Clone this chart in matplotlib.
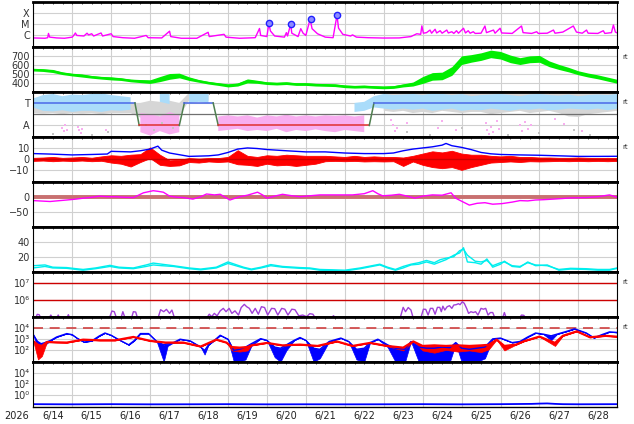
import numpy as np
import matplotlib.pyplot as plt
from matplotlib.ticker import NullLocator

# time axis: days since 2026-06-14 00:00
year_label = "2026"
day_labels = ["6/14", "6/15", "6/16", "6/17", "6/18", "6/19", "6/20", "6/21",
              "6/22", "6/23", "6/24", "6/25", "6/26", "6/27", "6/28"]

# --- X-ray flux (log10 W/m2) ---
xray_days = [0.00, 0.30, 0.37, 0.39, 0.42, 0.60, 0.80, 1.00, 1.06, 1.08,
             1.12, 1.30, 1.38, 1.42, 1.50, 1.55, 1.74, 1.78, 2.00, 2.05,
             2.30, 2.60, 2.90, 2.95, 3.30, 3.50, 3.53, 3.80, 4.20, 4.49,
             4.52, 4.90, 4.95, 5.30, 5.70, 5.81, 5.84, 6.00, 6.05, 6.09,
             6.20, 6.45, 6.50, 6.53, 6.61, 6.64, 6.80, 6.87, 6.93, 7.00,
             7.11, 7.16, 7.30, 7.50, 7.70, 7.80, 7.84, 7.95, 8.15, 8.20,
             8.30, 8.60, 9.00, 9.40, 9.70, 9.85, 9.95, 9.98, 10.02, 10.10,
             10.19, 10.23, 10.32, 10.36, 10.45, 10.50, 10.62, 10.66, 10.75, 10.80,
             10.87, 10.92, 11.05, 11.10, 11.17, 11.22, 11.30, 11.35, 11.50, 11.60,
             11.64, 11.82, 11.86, 11.99, 12.03, 12.30, 12.54, 12.58, 12.80, 12.93,
             12.97, 13.20, 13.36, 13.40, 13.60, 13.87, 13.95, 14.10, 14.21, 14.25,
             14.50, 14.64, 14.68, 14.85, 14.90, 14.95, 15.00]
xray_log = [-6.22, -6.25, -6.20, -5.82, -6.15, -6.22, -6.25, -6.15, -5.90, -5.78,
            -6.00, -6.05, -5.80, -5.95, -5.85, -6.05, -5.78, -6.05, -5.85, -6.10,
            -6.20, -6.25, -6.00, -6.20, -6.22, -5.62, -6.10, -6.25, -6.25, -5.72,
            -6.10, -5.90, -6.15, -6.25, -6.20, -5.38, -6.00, -6.10, -4.92, -5.60,
            -6.05, -6.15, -5.75, -6.05, -5.00, -5.80, -6.10, -5.40, -5.80, -6.00,
            -4.55, -5.40, -5.85, -6.15, -6.20, -4.20, -5.35, -5.90, -6.05, -5.95,
            -6.15, -6.20, -6.23, -6.22, -6.10, -5.85, -5.90, -5.15, -5.80, -5.75,
            -5.52, -5.80, -5.45, -5.78, -5.58, -5.80, -5.52, -5.78, -5.67, -5.82,
            -5.58, -5.80, -5.36, -5.78, -5.58, -5.80, -5.67, -5.82, -5.80, -5.16,
            -5.75, -5.52, -5.80, -5.36, -5.78, -5.82, -5.16, -5.75, -5.82, -5.67,
            -5.82, -5.80, -5.52, -5.80, -5.70, -5.16, -5.70, -5.80, -5.52, -5.80,
            -5.82, -5.58, -5.82, -5.75, -5.07, -5.70, -5.78]
flare_days = [6.06, 6.62, 7.12, 7.81]
flare_log = [-4.92, -5.00, -4.54, -4.18]

# --- samples every 6 hours ---
grid_days = np.linspace(0, 15, 61)

# solar wind speed (km/s): centre and half spread of the noisy band
speed_mid = [545, 540, 530, 505, 490, 480, 465, 455, 448, 440,
             425, 418, 412, 440, 470, 480, 445, 420, 400, 385,
             370, 380, 420, 410, 395, 390, 395, 385, 385, 378,
             375, 372, 360, 355, 358, 352, 348, 352, 370, 385,
             430, 470, 475, 530, 650, 670, 690, 720, 705, 665,
             640, 660, 665, 610, 575, 545, 510, 485, 465, 440, 415]
speed_spread = [15, 15, 17, 15, 15, 17, 15, 15, 17, 15,
                15, 17, 20, 28, 32, 26, 20, 15, 15, 15,
                17, 17, 22, 17, 15, 15, 15, 15, 15, 15,
                15, 15, 15, 15, 15, 15, 15, 15, 17, 22,
                38, 42, 42, 48, 48, 42, 42, 42, 42, 42,
                38, 38, 38, 32, 28, 25, 22, 22, 22, 22, 22]

# sector polarity (T = +1, A = -1)
pol_days = [0, 2.61, 2.72, 3.75, 3.88, 4.62, 4.75, 8.63, 8.75, 15]
pol_vals = [1, 1, -1, -1, 1, 1, -1, -1, 1, 1]
nan = np.nan
lb_hi = [1.4, 1.7, 1.8, 1.6, 1.75, 1.7, 1.8, 1.85, 1.7, 1.6,
         1.5, nan, nan, 1.85, 1.8, nan, 1.8, 1.85, 1.8, nan,
         nan, nan, nan, nan, nan, nan, nan, nan, nan, nan,
         nan, nan, nan, 1.0, 1.1, 1.6, 1.8, 1.7, 1.75, 1.8,
         1.7, 1.85, 1.8, 1.7, 1.8, 1.6, 1.7, 1.75, 1.8, 1.7,
         1.6, 1.75, 1.8, 1.7, 1.65, 1.75, 1.6, 1.7, 1.75, 1.7, 1.8]
lb_lo = [0.6, 0.3, 0.25, 0.35, 0.2, 0.3, 0.3, 0.2, 0.35, 0.3,
         0.4, nan, nan, 1.1, 0.9, nan, 1.0, 1.1, 1.0, nan,
         nan, nan, nan, nan, nan, nan, nan, nan, nan, nan,
         nan, nan, nan, 0.2, 0.3, 0.6, 0.5, 0.4, 0.5, 0.4,
         0.5, 0.3, 0.4, 0.5, 0.3, 0.4, 0.35, 0.5, 0.4, 0.3,
         0.45, 0.4, 0.5, 0.35, 0.4, 0.5, 0.45, 0.4, 0.5, 0.35, 0.5]
gr_hi = [1.0, 0.9, 1.0, 0.8, 1.0, 0.9, 1.0, 0.9, 1.0, 0.9,
         1.0, 1.0, 1.2, 1.1, 1.2, 1.0, 1.9, 1.95, 1.9, nan,
         nan, nan, nan, nan, nan, nan, nan, nan, nan, nan,
         nan, nan, nan, nan, nan, nan, 1.85, 1.9, 1.9, 1.95,
         1.9, 1.95, 1.9, 1.95, 1.95, 1.95, 1.95, 1.95, 1.95, 1.9,
         1.9, 1.9, 1.9, 1.85, 1.9, 1.95, 1.95, 1.95, 1.9, 1.95, 1.9]
gr_lo = [0.1, 0.05, 0.1, 0.0, 0.1, 0.05, 0.1, 0.0, 0.1, 0.1,
         0.1, -0.3, -0.5, -0.2, -0.4, -0.2, 1.2, 1.3, 1.2, nan,
         nan, nan, nan, nan, nan, nan, nan, nan, nan, nan,
         nan, nan, nan, nan, nan, nan, 0.3, 0.2, 0.3, 0.1,
         0.2, 0.1, 0.3, 0.2, 0.1, 0.2, 0.2, 0.0, 0.1, 0.2,
         0.3, 0.1, 0.2, 0.3, 0.1, -0.2, -0.25, 0.0, 0.1, 0.2, 0.3]
pk_hi = [nan, nan, nan, nan, nan, nan, nan, nan, nan, nan,
         nan, 0.1, 0.0, -0.2, 0.2, -0.1, nan, nan, nan, -0.2,
         -0.1, -0.2, -0.1, -0.3, -0.1, -0.2, -0.05, -0.2, -0.1, -0.2,
         -0.1, -0.15, -0.1, -0.2, -0.1, nan, nan, nan, nan, nan,
         nan, nan, nan, nan, nan, nan, nan, nan, nan, nan,
         nan, nan, nan, nan, nan, nan, nan, nan, nan, nan, nan]
pk_lo = [nan, nan, nan, nan, nan, nan, nan, nan, nan, nan,
         nan, -1.6, -1.9, -1.5, -1.8, -1.6, nan, nan, nan, -1.5,
         -1.4, -1.3, -1.5, -1.4, -1.5, -1.3, -1.6, -1.4, -1.5, -1.35,
         -1.5, -1.6, -1.4, -1.5, -1.6, nan, nan, nan, nan, nan,
         nan, nan, nan, nan, nan, nan, nan, nan, nan, nan,
         nan, nan, nan, nan, nan, nan, nan, nan, nan, nan, nan]
pink_dot_days = [0.74, 0.78, 0.82, 0.86, 1.14, 1.18, 1.22, 1.26, 1.88, 9.20,
                 9.24, 9.28, 9.33, 9.60, 10.40, 10.50, 10.85, 11.62, 11.66, 11.70,
                 11.76, 11.82, 11.90, 11.96, 12.50, 12.56, 12.62, 12.70, 12.78, 13.40,
                 13.62, 14.10]
pink_dot_vals = [-1.2, -1.5, -1.0, -1.4, -1.1, -1.4, -1.7, -1.3, -1.4, -0.5,
                 -1.0, -1.5, -1.2, -0.8, -1.2, -0.6, -1.4, -0.8, -1.4, -1.8,
                 -1.1, -1.6, -0.6, -1.3, -1.0, -1.5, -0.7, -1.3, -1.0, -0.4,
                 -0.9, -1.5]
gray_dot_days = [0.5, 1.5, 1.92, 2.9, 3.1, 3.3, 3.6, 9.6, 10.2, 11.0, 12.2, 13.0, 13.9, 14.3]
gray_dot_vals = [-1.8, -1.85, -1.6, -1.0, -1.4, -0.8, -1.2, -1.6, -1.85, -1.2, -1.85, -1.7, -1.4, -1.85]

# IMF Bt and Bz (nT)
bt_days = [0, 0.5, 1.0, 1.5, 1.9, 2.0, 2.5, 2.75, 3.0, 3.2,
           3.3, 3.5, 3.75, 4.0, 4.5, 4.75, 5.0, 5.25, 5.5, 5.75,
           6.0, 6.5, 7.0, 7.5, 8.0, 8.5, 9.0, 9.25, 9.5, 9.75,
           10.0, 10.25, 10.5, 10.6, 10.75, 11.0, 11.25, 11.5, 11.75, 12.0,
           12.5, 13.0, 13.5, 14.0, 14.5, 15.0]
bt_vals = [5, 4.5, 3.8, 4.2, 4.6, 7, 6.5, 7.5, 9, 11.6,
           8, 5.5, 4, 2.5, 3, 3.8, 6, 9, 10, 9.5,
           8.6, 7.5, 6.5, 6.5, 5.5, 5, 5, 5.5, 7.5, 9,
           10, 11, 12.5, 14, 12, 10.5, 8.5, 6, 4.8, 4.2,
           3.8, 3.5, 3, 2.5, 2.5, 2.6]
bz_lo = [-1.5, -1.2, -1.8, -1.3, -1.6, -1.2, -1.8, -1.4, -3.0, -4.0,
         -6.5, -2.5, 1.0, -5.0, -6.0, -5.5, -2.5, -3.0, -2.0, -2.5,
         -2.0, -4.5, -5.0, -6.0, -4.0, -5.5, -5.0, -6.0, -5.0, -4.0,
         -1.8, -1.5, -1.8, -1.5, -2.0, -1.8, -2.0, -1.8, -6.0, -2.0,
         -5.0, -7.0, -8.0, -7.0, -9.5, -7.0, -5.0, -3.0, -2.5, -2.0,
         -2.5, -1.8, -2.0, -1.8, -1.5, -1.8, -1.5, -1.8, -1.5, -1.8, -1.5]
bz_hi = [1.2, 1.5, 2.0, 1.2, 1.5, 2.0, 1.3, 2.5, 3.5, 3.0,
         4.0, 4.5, 10.5, 4.0, -1.0, -0.5, 1.0, 0.5, 1.0, 1.0,
         2.0, 8.0, 3.0, 2.0, 3.5, 3.0, 4.0, 3.5, 3.0, 3.0,
         3.0, 2.5, 2.0, 3.0, 2.0, 2.5, 2.0, 2.0, 1.5, 3.0,
         5.0, 7.0, 6.0, 7.5, 5.0, 4.0, 4.0, 3.0, 2.5, 3.0,
         2.0, 2.0, 1.5, 1.5, 1.2, 1.2, 1.5, 1.2, 1.0, 1.2, 1.0]

# Dst (nT)
dst_days = [0.0, 0.43, 0.6, 0.86, 1.1, 1.28, 1.5, 1.7, 1.9, 2.1,
            2.35, 2.57, 2.83, 3.08, 3.2, 3.34, 3.5, 3.7, 3.85, 4.1,
            4.3, 4.45, 4.65, 4.8, 5.05, 5.3, 5.5, 5.76, 5.9, 6.0,
            6.2, 6.4, 6.65, 6.85, 7.1, 7.36, 7.8, 8.2, 8.5, 8.72,
            8.85, 8.97, 9.2, 9.4, 9.6, 9.8, 10.0, 10.25, 10.5, 10.73,
            10.85, 11.0, 11.2, 11.4, 11.6, 11.8, 12.04, 12.3, 12.5, 12.7,
            12.9, 13.1, 13.36, 13.6, 13.8, 14.2, 14.5, 14.8, 15.0]
dst_vals = [-13, -16, -14, -11, -8, -5, -2, 2, 0, 0,
            -2, -3, 13, 20, 18, 15, 2, -2, -3, -8,
            0, 9, 6, 8, -11, 0, 5, 15, 5, -5,
            2, 8, 3, 0, 3, 6, 6, 6, 10, 20,
            10, 3, 5, 8, 2, -5, 2, 6, 5, 13,
            -5, -15, -28, -22, -20, -25, -23, -18, -13, -14,
            -11, -10, -8, -6, -4, -3, 0, 6, -2]

# solar wind density (/cc), two sources
dens_days = [0.0, 0.3, 0.5, 0.86, 1.1, 1.28, 1.6, 1.97, 2.2, 2.57,
             2.9, 3.08, 3.3, 3.6, 4.0, 4.3, 4.7, 5.0, 5.2, 5.4,
             5.6, 5.85, 6.1, 6.4, 6.85, 7.1, 7.36, 7.7, 8.0, 8.4,
             8.9, 9.1, 9.3, 9.5, 9.7, 9.9, 10.1, 10.3, 10.45, 10.6,
             10.8, 10.95, 11.05, 11.15, 11.35, 11.5, 11.65, 11.8, 12.0, 12.1,
             12.3, 12.5, 12.7, 12.9, 13.2, 13.5, 13.8, 14.2, 14.5, 14.8, 15.0]
dens_a = [5, 7, 5, 4.5, 3, 2, 4, 7, 5, 4,
          7, 9, 8, 7, 4, 2.5, 5, 11, 8, 5,
          2.5, 5, 8, 6, 4.5, 4, 2, 1.5, 1, 4,
          9, 5, 2, 5, 9, 10, 13, 10, 13, 16,
          22, 25, 32, 13, 12, 10, 17, 6, 10, 14,
          7, 6, 13, 8, 9, 2, 3.5, 3, 2, 2, 4.5]
dens_b = [8, 9, 6, 5.5, 4, 3, 5, 8.5, 6, 5,
          9, 11.5, 10, 8, 5, 3.5, 6, 13, 9.5, 6,
          3.5, 6, 9.5, 7, 5.5, 5, 3, 2.5, 2, 5,
          10, 6, 3, 7, 10, 12, 15, 12, 16, 18,
          20, 28, 30, 22, 14, 13, 15, 8, 12, 13,
          8, 7, 12, 9, 8, 3, 4.5, 4, 3, 3, 5]

# purple flux panel (log10)
mag_days = [0.00, 0.06, 0.10, 0.15, 0.20, 0.40, 0.45, 0.50, 0.60, 0.64, 0.68, 0.86, 0.90, 0.94,
            1.95, 2.02, 2.08, 2.14, 2.25, 2.30, 2.36, 2.52, 2.57, 2.63, 2.68,
            3.20, 3.27, 3.35, 3.42, 3.50, 3.56, 3.63,
            4.45, 4.52, 4.58, 4.65, 4.72, 4.80, 4.88, 4.95, 5.03, 5.10,
            5.18, 5.27, 5.34, 5.42, 5.48, 5.55, 5.62, 5.70, 5.78, 5.86,
            5.94, 6.02, 6.12, 6.20, 6.28, 6.38, 6.46, 6.54, 6.64, 6.72,
            6.82, 6.92, 7.02, 7.10, 7.18, 7.25,
            7.65, 7.71, 7.77,
            9.42, 9.50, 9.56, 9.63, 9.70, 9.76,
            9.95, 10.02, 10.08, 10.14, 10.20, 10.26, 10.32, 10.38, 10.44, 10.48,
            10.52, 10.57, 10.63, 10.69, 10.75, 10.80, 10.86, 10.92, 10.96, 11.02,
            11.07, 11.13, 11.18, 11.24, 11.30, 11.36, 11.42, 11.50, 11.56, 11.62,
            11.68, 11.74, 11.80, 11.86,
            12.05, 12.10, 12.15, 12.48, 12.54, 12.60, 12.65, 15.0]
mag_log = [4.9, 4.9, 5.14, 5.12, 4.9, 4.9, 5.1, 4.9, 4.9, 5.1, 4.9, 4.9, 5.12, 4.9,
           4.9, 5.34, 5.3, 4.9, 4.9, 5.3, 4.9, 4.9, 5.3, 5.28, 4.9,
           4.9, 5.42, 5.3, 5.44, 5.2, 5.4, 4.9,
           4.9, 5.15, 5.0, 5.2, 5.05, 5.35, 5.5, 5.3, 5.5, 5.2,
           5.35, 5.1, 5.55, 5.74, 5.6, 5.5, 5.2, 5.5, 5.15, 5.6,
           5.55, 5.1, 5.5, 5.48, 5.1, 5.5, 5.45, 5.1, 5.45, 5.42,
           5.05, 5.1, 5.0, 5.18, 5.15, 4.9,
           4.9, 5.06, 4.9,
           4.9, 5.56, 5.3, 5.55, 5.4, 4.9,
           4.9, 5.45, 5.44, 5.1, 5.5, 5.5, 5.15, 5.56, 5.56, 5.3,
           5.63, 5.4, 5.6, 5.66, 5.5, 5.7, 5.72, 5.78, 5.72, 5.9,
           5.8, 5.5, 5.2, 5.3, 5.25, 5.3, 5.1, 5.5, 5.45, 5.5,
           5.1, 5.25, 5.25, 4.9,
           4.9, 5.25, 4.9, 4.9, 5.1, 5.08, 4.9, 4.9]

# electron flux (log10), line and lower edge of dropouts
eb_days = [0.00, 0.10, 0.20, 0.30, 0.45, 0.60, 0.86, 1.00, 1.12, 1.30,
           1.50, 1.70, 1.84, 2.00, 2.20, 2.45, 2.60, 2.75, 2.96, 3.17,
           3.35, 3.45, 3.60, 3.77, 4.03, 4.30, 4.40, 4.50, 4.65, 4.80,
           5.00, 5.15, 5.30, 5.45, 5.60, 5.84, 6.00, 6.20, 6.35, 6.50,
           6.70, 6.85, 7.00, 7.20, 7.36, 7.60, 7.90, 8.10, 8.30, 8.50,
           8.65, 8.85, 9.10, 9.30, 9.55, 9.70, 9.90, 10.10, 10.30, 10.50,
           10.70, 10.85, 11.00, 11.20, 11.40, 11.60, 11.80, 12.00, 12.30, 12.50,
           12.70, 12.90, 13.10, 13.30, 13.45, 13.70, 13.90, 14.20, 14.40, 14.60,
           14.80, 15.00]
eb_log = [3.41, 2.82, 2.6, 2.7, 2.9, 3.2, 3.5, 3.4, 3.1, 2.75,
          2.85, 3.3, 3.55, 3.35, 2.95, 2.5, 2.9, 3.5, 3.5, 2.8,
          2.5, 2.6, 2.7, 3.0, 2.85, 2.3, 2.0, 2.5, 2.9, 3.35,
          3.0, 2.0, 2.1, 2.3, 2.6, 3.05, 2.9, 2.3, 2.2, 2.5,
          2.9, 3.15, 2.9, 2.2, 2.1, 2.8, 3.1, 2.8, 2.1, 2.2,
          2.7, 3.0, 2.5, 2.2, 2.1, 2.8, 2.3, 2.2, 2.2, 2.3,
          2.25, 2.7, 2.2, 2.1, 2.2, 2.3, 3.03, 3.1, 2.7, 2.8,
          3.2, 3.55, 3.45, 3.3, 3.45, 3.7, 3.92, 3.56, 3.12, 3.4,
          3.65, 3.6]
eb_lo = [3.41, 2.3, 2.2, 2.5, 2.9, 3.2, 3.5, 3.4, 3.1, 2.75,
         2.85, 3.3, 3.55, 3.35, 2.95, 2.5, 2.9, 3.5, 3.5, 2.8,
         1.0, 2.4, 2.7, 3.0, 2.85, 2.3, 1.64, 2.5, 2.9, 3.35,
         3.0, 1.0, 1.0, 1.2, 2.4, 3.05, 2.9, 1.4, 1.0, 2.0,
         2.9, 3.15, 2.9, 1.0, 1.3, 2.8, 3.1, 2.8, 1.2, 1.0,
         2.7, 3.0, 2.3, 1.0, 1.0, 2.8, 1.0, 1.0, 1.0, 1.0,
         1.0, 2.6, 1.0, 1.0, 1.0, 1.3, 3.03, 3.1, 2.7, 2.8,
         3.2, 3.55, 3.45, 2.9, 3.45, 3.7, 3.92, 3.56, 3.12, 3.4,
         3.65, 3.6]
er_days = [0.00, 0.12, 0.22, 0.35, 0.60, 0.86, 1.28, 1.70, 2.10, 2.57,
           3.00, 3.40, 3.85, 4.30, 4.70, 4.96, 5.10, 5.30, 5.50, 5.60,
           6.00, 6.40, 6.85, 7.30, 7.80, 8.20, 8.65, 9.08, 9.50, 9.76,
           10.0, 10.3, 10.6, 10.9, 11.2, 11.5, 11.7, 11.9, 12.1, 12.4,
           12.6, 13.0, 13.4, 13.6, 13.96, 14.3, 14.7, 15.0]
er_log = [2.82, 2.5, 2.4, 2.75, 2.72, 2.7, 2.96, 2.9, 2.9, 3.2,
          2.85, 2.7, 2.7, 2.35, 2.96, 2.7, 2.3, 2.25, 2.3, 2.45,
          2.67, 2.45, 2.52, 2.4, 2.8, 2.4, 2.67, 2.4, 2.25, 2.8,
          2.4, 2.45, 2.4, 2.45, 2.4, 2.45, 2.5, 2.96, 2.4, 2.52,
          2.82, 3.23, 2.67, 3.3, 3.7, 3.17, 3.3, 3.22]
er_lo = [2.82, 1.2, 1.5, 2.75, 2.72, 2.7, 2.96, 2.9, 2.9, 3.2,
         2.85, 2.7, 2.7, 2.35, 2.96, 2.7, 2.0, 1.9, 2.0, 2.45,
         2.67, 2.45, 2.52, 2.4, 2.8, 2.4, 2.67, 2.4, 2.0, 2.8,
         2.0, 1.8, 2.05, 1.9, 2.0, 1.85, 2.1, 2.96, 2.0, 2.52,
         2.82, 3.23, 2.4, 3.3, 3.7, 3.17, 3.3, 3.22]

# proton flux (log10)
prot_days = [0, 1, 2, 3, 4, 5, 6, 7, 8, 9, 10, 11, 12, 12.8, 13.0, 13.2, 13.4, 13.6, 14, 15]
prot_log = [-1.55, -1.58, -1.55, -1.58, -1.57, -1.55, -1.58, -1.57, -1.58, -1.57,
            -1.55, -1.58, -1.55, -1.5, -1.45, -1.42, -1.5, -1.55, -1.57, -1.55]

# ------------------------------------------------------------------
W, H = 634, 424
fig = plt.figure(figsize=(W / 100, H / 100), dpi=100)

axes = []
for i in range(9):
    top = 1.7 + 45 * i
    axes.append(fig.add_axes([33.3 / W, 1 - (top + 45) / H, 584 / W, 45 / H]))


def style(ax, ylim, yticks, ylabels, log=False):
    if log:
        ax.set_yscale("log")
    ax.set_xlim(0, 15)
    ax.set_ylim(*ylim)
    ax.set_yticks(yticks)
    ax.set_yticklabels(ylabels)
    ax.yaxis.set_minor_locator(NullLocator())
    ax.set_xticks(range(16))
    ax.set_xticks(grid_days, minor=True)
    ax.tick_params(axis="x", which="both", direction="in", top=True, bottom=False,
                   labelbottom=False, length=1.5, width=0.5)
    ax.tick_params(axis="y", which="both", direction="in", length=0, pad=2.5,
                   labelsize=7, labelcolor="#333333")
    ax.grid(True, which="major", color="#d0d0d0", lw=0.8)
    ax.set_axisbelow(True)
    for s in ("top", "bottom"):
        ax.spines[s].set_linewidth(2)
    for s in ("left", "right"):
        ax.spines[s].set_linewidth(0.8)


def rt(ax):
    ax.text(1.008, 0.78, "rt", transform=ax.transAxes, fontsize=5,
            color="#333333", va="center", ha="left")


# 1. X-ray
ax = axes[0]
style(ax, (1e-7, 1e-3), [1e-6, 1e-5, 1e-4], ["C", "M", "X"], log=True)
ax.plot(xray_days, 10 ** np.array(xray_log), color="#ff00ff", lw=1)
ax.plot(flare_days, 10 ** np.array(flare_log), "o", ms=4.5, mfc="#8c8cff",
        mec="#2020ff", mew=1)

# 2. speed
ax = axes[1]
style(ax, (300, 800), [400, 500, 600, 700], ["400", "500", "600", "700"])
mid = np.array(speed_mid)
spr = np.array(speed_spread)
ax.fill_between(grid_days, mid - spr, mid + spr, color="#00ee00", lw=0)
ax.plot(grid_days, mid, color="#00ee00", lw=1)
rt(ax)

# 3. polarity
ax = axes[2]
style(ax, (-2, 2), [-1, 1], ["A", "T"])
ax.fill_between(grid_days, gr_lo, gr_hi, color="#d6d6d6", lw=0)
ax.fill_between(grid_days, lb_lo, lb_hi, color="#aadcfa", lw=0)
ax.fill_between(grid_days, pk_lo, pk_hi, color="#f8aef0", lw=0)
ax.plot(pink_dot_days, pink_dot_vals, "s", ms=1.8, color="#f8aef0", mew=0)
ax.plot(gray_dot_days, gray_dot_vals, "s", ms=1.5, color="#c4c4c4", mew=0)
ax.axhline(0, color="#707070", lw=0.9)
for k in range(len(pol_days) - 1):
    a, b = pol_vals[k], pol_vals[k + 1]
    c = "#4a68e8" if a == b == 1 else ("#e03030" if a == b == -1 else "#4f7f4f")
    ax.plot(pol_days[k:k + 2], pol_vals[k:k + 2], color=c, lw=1.1)
rt(ax)

# 4. IMF
ax = axes[3]
style(ax, (-20, 20), [-10, 0, 10], ["\u221210", "0", "10"])
ax.axhline(0, color="#cc0000", lw=1)
ax.plot(bt_days, bt_vals, color="#0000ff", lw=1)
ax.fill_between(grid_days, bz_lo, bz_hi, color="#ff0000", lw=0.6, edgecolor="#ff0000")
rt(ax)

# 5. Dst
ax = axes[4]
style(ax, (-100, 50), [-50, 0], ["\u221250", "0"])
ax.axhline(0, color="#c87070", lw=2.8)
ax.plot(dst_days, dst_vals, color="#ff00ff", lw=1)

# 6. density
ax = axes[5]
style(ax, (0, 60), [20, 40], ["20", "40"])
ax.plot(dens_days, dens_a, color="#00eeee", lw=1)
ax.plot(dens_days, dens_b, color="#00eeee", lw=1)

# 7. purple flux
ax = axes[6]
style(ax, (1e5, 5e7), [1e6, 1e7], ["10\u2076", "10\u2077"], log=True)
ax.axhline(1e6, color="#cc0000", lw=1)
ax.axhline(1e7, color="#cc0000", lw=1)
ax.plot(mag_days, 10 ** np.array(mag_log), color="#a040d8", lw=1)
rt(ax)

# 8. electrons
ax = axes[7]
style(ax, (10, 1e5), [1e2, 1e3, 1e4], ["10\u00b2", "10\u00b3", "10\u2074"], log=True)
ax.axhline(1e4, color="#d04040", lw=1.2, dashes=(6, 4))
ax.fill_between(eb_days, 10 ** np.array(eb_lo), 10 ** np.array(eb_log),
                color="#0000ff", lw=0.5, edgecolor="#0000ff")
ax.plot(eb_days, 10 ** np.array(eb_log), color="#0000ff", lw=1)
ax.fill_between(er_days, 10 ** np.array(er_lo), 10 ** np.array(er_log),
                color="#ff0000", lw=0.5, edgecolor="#ff0000")
ax.plot(er_days, 10 ** np.array(er_log), color="#ff0000", lw=1.6)
rt(ax)

# 9. protons
ax = axes[8]
style(ax, (1e-2, 1e6), [1e0, 1e2, 1e4], ["10\u2070", "10\u00b2", "10\u2074"], log=True)
ax.plot(prot_days, 10 ** np.array(prot_log), color="#0000ff", lw=1.3)
ax.spines["bottom"].set_linewidth(1)
for i, lab in enumerate(day_labels):
    ax.text(i + 0.5, -0.21, lab, transform=ax.get_xaxis_transform(),
            ha="center", va="center", fontsize=7, color="#222222")
fig.text(17 / W, 1 - 416 / H, year_label, ha="center", va="center",
         fontsize=7, color="#222222")

fig.savefig("out.png", dpi=100)
